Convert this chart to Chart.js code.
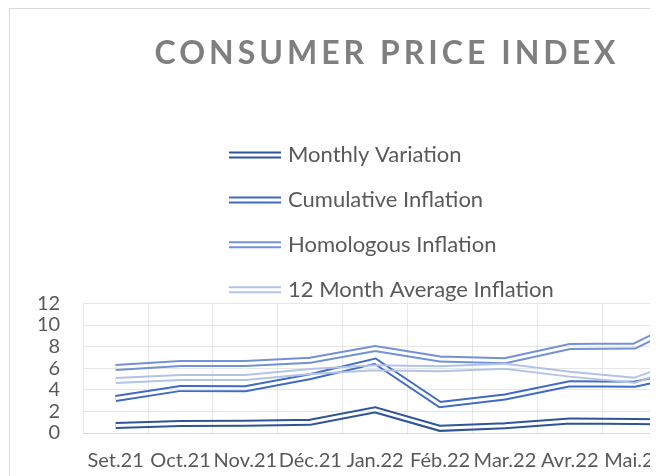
<!DOCTYPE html>
<html>
<head>
<meta charset="utf-8">
<script src="https://cdn.jsdelivr.net/npm/chart.js@4"></script>
<style>
  html, body { margin: 0; padding: 0; background: #fff; }
  #clip { position: absolute; left: 0; top: 0; width: 650px; height: 476px; overflow: hidden; background: #fff; }
  #frame { position: absolute; left: 9px; top: 8px; border-left: 1px solid #d9d9d9; border-top: 1px solid #d9d9d9; }
  canvas { display: block; }
</style>
</head>
<body>
<div id="clip"><div id="frame"><canvas id="c" width="754" height="490"></canvas></div></div>
<script>
// ---- data ----
const categories = ['Set.21', 'Oct.21', 'Nov.21', 'Déc.21', 'Jan.22', 'Féb.22', 'Mar.22', 'Avr.22', 'Mai.22', 'Jun.22'];
const monthlyVariation   = [0.70, 0.89, 0.90, 1.00, 2.14, 0.43, 0.67, 1.12, 1.07, 1.00];
const cumulativeInflation = [3.19, 4.13, 4.10, 5.22, 6.65, 2.63, 3.34, 4.55, 4.52, 5.80];
const homologousInflation = [6.06, 6.43, 6.43, 6.73, 7.83, 6.85, 6.69, 8.01, 8.06, 11.0];
const avg12Inflation      = [4.86, 5.14, 5.14, 5.70, 6.05, 5.95, 6.17, 5.45, 4.89, 7.00];
const seriesNames = ['Monthly Variation', 'Cumulative Inflation', 'Homologous Inflation', '12 Month Average Inflation'];
const seriesColors = ['#2E5597', '#3F6BC2', '#7391D5', '#B2C3E6'];
const yTicks = [0, 2, 4, 6, 8, 10, 12];
const titleText = 'CONSUMER PRICE INDEX';

const FONT = 'Lato, "Open Sans", sans-serif';
const OUTER = 7, INNER = 3;

function strokeDouble(ctx, pts, color) {
  const c = document.createElement('canvas');
  c.width = ctx.canvas.width; c.height = ctx.canvas.height;
  const o = c.getContext('2d');
  o.setTransform(ctx.getTransform());
  o.lineJoin = 'miter'; o.lineCap = 'butt';
  o.beginPath();
  pts.forEach((p, i) => i ? o.lineTo(p.x, p.y) : o.moveTo(p.x, p.y));
  o.strokeStyle = color; o.lineWidth = OUTER; o.stroke();
  o.globalCompositeOperation = 'destination-out';
  o.lineWidth = INNER; o.stroke();
  ctx.save(); ctx.setTransform(1, 0, 0, 1, 0, 0); ctx.drawImage(c, 0, 0); ctx.restore();
}

const doubleLinePlugin = {
  id: 'doubleLine',
  beforeDatasetDraw(chart, args) {
    const meta = args.meta;
    const ds = chart.data.datasets[args.index];
    const pts = meta.data.map(p => ({ x: p.x, y: p.y }));
    strokeDouble(chart.ctx, pts, ds.borderColor);
    return false;
  }
};

const stackedLegendPlugin = {
  id: 'stackedLegend',
  afterDraw(chart, args, opts) {
    const ctx = chart.ctx;
    ctx.save();
    ctx.font = opts.fontSize + 'px ' + FONT;
    ctx.fillStyle = opts.color;
    ctx.textBaseline = 'middle';
    ctx.textAlign = 'left';
    chart.data.datasets.forEach((ds, i) => {
      const y = opts.top + i * opts.step;
      strokeDouble(ctx, [{ x: opts.left, y }, { x: opts.left + opts.sample, y }], ds.borderColor);
      ctx.fillText(ds.label, opts.left + opts.sample + opts.gap, y);
    });
    ctx.restore();
  }
};

const spacedTitlePlugin = {
  id: 'spacedTitle',
  afterInit(chart, args, opts) {
    const tb = chart.titleBlock;
    if (!tb) return;
    const orig = tb.draw.bind(tb);
    tb.draw = function () {
      const c = chart.ctx;
      c.save();
      c.letterSpacing = opts.spacing + 'px';
      c.translate(opts.shiftX, 0);
      orig();
      c.restore();
    };
  }
};

const datasets = [monthlyVariation, cumulativeInflation, homologousInflation, avg12Inflation].map((data, i) => ({
  label: seriesNames[i],
  data,
  borderColor: seriesColors[i],
  backgroundColor: seriesColors[i],
  borderWidth: OUTER,
  pointRadius: 0,
  tension: 0,
  fill: false,
  order: 3 - i
}));

new Chart(document.getElementById('c'), {
  type: 'line',
  data: { labels: categories, datasets },
  options: {
    responsive: false,
    animation: false,
    layout: { padding: { left: 4, right: 32, top: 0, bottom: 10 } },
    plugins: {
      legend: { display: false },
      tooltip: { enabled: false },
      title: {
        display: true,
        text: titleText,
        color: '#7F7F7F',
        font: { family: FONT, size: 32, weight: 'bold' },
        padding: { top: 25, bottom: 231 }
      },
      spacedTitle: { spacing: 4, shiftX: 14 },
      stackedLegend: { left: 219, top: 146, step: 44.9, sample: 52, gap: 7, fontSize: 22, color: '#595959' }
    },
    scales: {
      x: {
        offset: true,
        grid: { offset: true, color: '#E6E6E6', drawTicks: false },
        border: { display: true, color: '#D9D9D9' },
        ticks: { color: '#595959', font: { family: FONT, size: 20 }, padding: 16, maxRotation: 0, autoSkip: false }
      },
      y: {
        min: 0, max: 12,
        afterBuildTicks(scale) { scale.ticks = yTicks.map(v => ({ value: v })); },
        grid: { color: '#E6E6E6', drawTicks: false },
        border: { display: false },
        ticks: { color: '#595959', font: { family: FONT, size: 20 }, padding: 23, autoSkip: false, stepSize: 2 }
      }
    }
  },
  plugins: [doubleLinePlugin, stackedLegendPlugin, spacedTitlePlugin]
});
</script>
</body>
</html>
